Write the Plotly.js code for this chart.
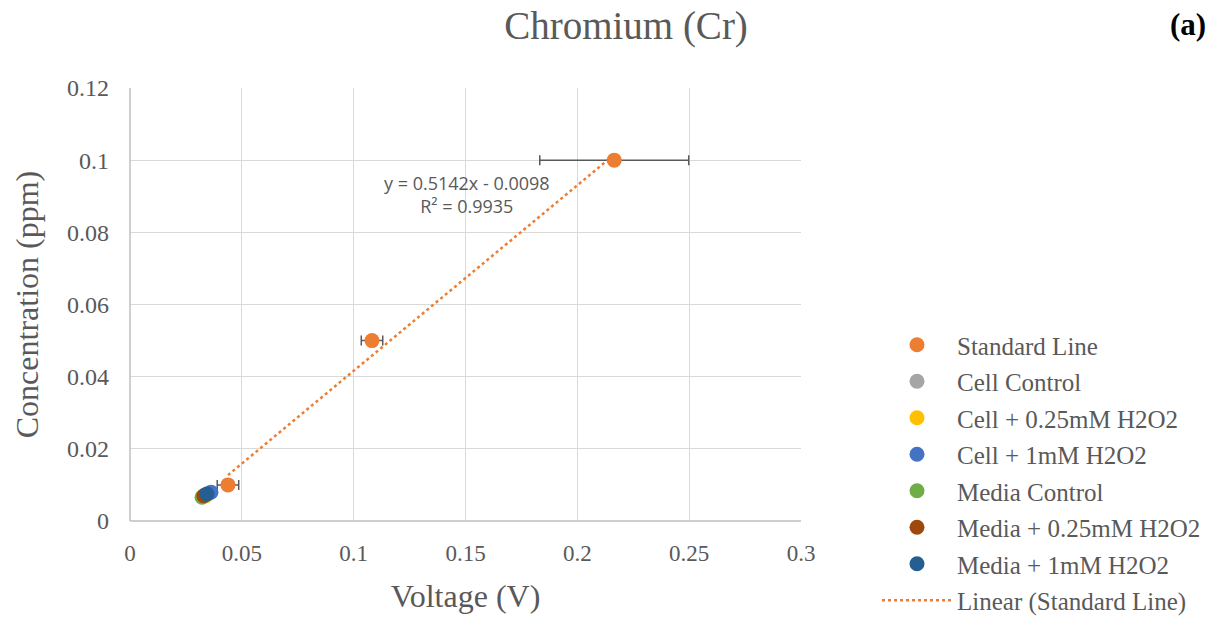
<!DOCTYPE html>
<html><head><meta charset="utf-8">
<script src="https://cdn.plot.ly/plotly-3.0.1.min.js"></script>
<style>html,body{margin:0;padding:0;background:#fff}</style>
</head><body>
<div id="chart" style="width:1224px;height:617px"></div>
<script>
// Data
const stdVoltage = [0.0438, 0.1082, 0.2165];
const stdConc = [0.01, 0.05, 0.1];
const stdErr = [0.0048, 0.0048, 0.0333];

const seriesNames = ["Cell Control", "Cell + 0.25mM H2O2", "Cell + 1mM H2O2", "Media Control", "Media + 0.25mM H2O2", "Media + 1mM H2O2"];
const seriesVoltage = [0.0335, 0.0340, 0.0362, 0.0322, 0.0330, 0.0344];
const seriesConc = [0.0072, 0.0070, 0.0080, 0.0066, 0.0070, 0.0075];
const seriesColors = ["#A5A5A5", "#FFC000", "#4472C4", "#70AD47", "#9E480E", "#255E91"];

const slope = 0.5142, intercept = -0.0098, r2 = 0.9935;

const gray = "#595959";
const serif = "Liberation Serif, Times New Roman, serif";

const traces = [];
// Trendline
const xMin = Math.min(...stdVoltage), xMax = Math.max(...stdVoltage);
traces.push({
  x: [xMin, xMax], y: [slope * xMin + intercept, slope * xMax + intercept],
  mode: "lines", type: "scatter", name: "Linear (Standard Line)",
  line: {color: "#ED7D31", width: 2.5, dash: "dot"}, legendgroup: "g8", legendrank: 8, hoverinfo: "skip"
});
traces.push({
  x: stdVoltage, y: stdConc, mode: "markers", type: "scatter", name: "Standard Line",
  marker: {color: "#ED7D31", size: 15},
  error_x: {type: "data", array: stdErr, visible: true, color: gray, thickness: 1.5, width: 5},
  legendgroup: "g1", legendrank: 1
});
seriesNames.forEach((n, i) => {
  traces.push({
    x: [seriesVoltage[i]], y: [seriesConc[i]], mode: "markers", type: "scatter", name: n,
    marker: {color: seriesColors[i], size: 15}, legendgroup: "g" + (i + 2), legendrank: i + 2
  });
});

const layout = {
  width: 1224, height: 617,
  margin: {l: 130, r: 423, t: 88, b: 96},
  paper_bgcolor: "#fff", plot_bgcolor: "#fff",
  showlegend: true,
  title: {text: "Chromium (Cr)", font: {family: serif, size: 39, color: gray}, x: 626 / 1224, xanchor: "center", y: 1 - 25 / 617, yanchor: "middle"},
  xaxis: {
    range: [0, 0.3], dtick: 0.05, tick0: 0, showgrid: true, gridcolor: "#d9d9d9", gridwidth: 1,
    zeroline: false, showline: false, ticks: "", automargin: false,
    tickfont: {family: serif, size: 23, color: gray}, ticklabelstandoff: 16,
    title: {text: "Voltage (V)", font: {family: serif, size: 32, color: gray}, standoff: 19}
  },
  yaxis: {
    range: [0, 0.12], dtick: 0.02, tick0: 0, showgrid: true, gridcolor: "#d9d9d9", gridwidth: 1,
    zeroline: false, showline: false, ticks: "", automargin: false,
    tickfont: {family: serif, size: 24, color: gray}, ticklabelstandoff: 20,
    title: {text: "Concentration (ppm)", font: {family: serif, size: 32, color: gray}, standoff: 18}
  },
  shapes: [
    {type: "line", xref: "paper", yref: "paper", x0: 0, x1: 0, y0: 0, y1: 1, line: {color: "#bfbfbf", width: 1.5}},
    {type: "line", xref: "paper", yref: "paper", x0: 0, x1: 1, y0: 0, y1: 0, line: {color: "#bfbfbf", width: 1.5}}
  ],
  legend: {
    xref: "container", yref: "container",
    x: 877 / 1224, xanchor: "left", y: 1 - 322 / 617, yanchor: "top",
    font: {family: serif, size: 25, color: gray}, maxheight: 400,
    tracegroupgap: 1, bgcolor: "rgba(0,0,0,0)", itemwidth: 70
  },
  annotations: [
    {text: "y = 0.5142x - 0.0098<br>R² = " + r2.toFixed(4), xref: "paper", yref: "paper",
     x: (467 - 130) / 671, y: (521 - 194.5) / 433, xanchor: "center", yanchor: "middle", showarrow: false,
     font: {family: "Open Sans, Carlito, sans-serif", size: 18, color: gray}, align: "center"},
    {text: "<b>(a)</b>", xref: "paper", yref: "paper", x: (1188 - 130) / 671, y: (521 - 25) / 433,
     xanchor: "center", yanchor: "middle", showarrow: false, font: {family: serif, size: 31, color: "#000"}}
  ]
};

Plotly.newPlot("chart", traces, layout, {displayModeBar: false});
</script>
</body></html>
